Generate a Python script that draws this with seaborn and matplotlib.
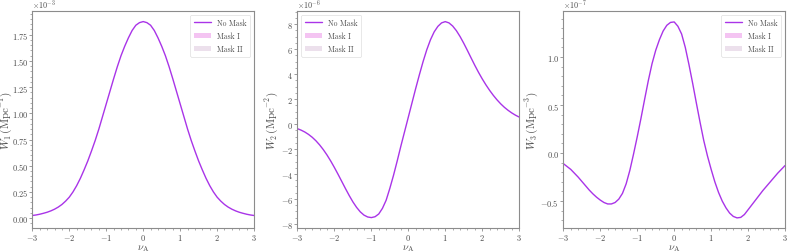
import numpy as np
import pandas as pd
import matplotlib
matplotlib.use('Agg')
import matplotlib.pyplot as plt
import matplotlib.ticker as plticker
import seaborn as sns

# threshold values nu_A
nu = [-3.0, -2.9, -2.8, -2.7, -2.6, -2.5, -2.4, -2.3, -2.2, -2.1, -2.0,
      -1.9, -1.8, -1.7, -1.6, -1.5, -1.4, -1.3, -1.2, -1.1, -1.0,
      -0.9, -0.8, -0.7, -0.6, -0.5, -0.4, -0.3, -0.2, -0.1, 0.0,
      0.1, 0.2, 0.3, 0.4, 0.5, 0.6, 0.7, 0.8, 0.9, 1.0,
      1.1, 1.2, 1.3, 1.4, 1.5, 1.6, 1.7, 1.8, 1.9, 2.0,
      2.1, 2.2, 2.3, 2.4, 2.5, 2.6, 2.7, 2.8, 2.9, 3.0]

# W1, units of 1e-3 Mpc^-1
w1 = [0.025, 0.030, 0.037, 0.046, 0.056, 0.069, 0.085, 0.105, 0.13, 0.162, 0.20,
      0.25, 0.31, 0.38, 0.46, 0.545, 0.64, 0.74, 0.85, 0.97, 1.09,
      1.21, 1.33, 1.445, 1.55, 1.64, 1.72, 1.79, 1.84, 1.865, 1.875,
      1.865, 1.84, 1.79, 1.72, 1.64, 1.55, 1.445, 1.33, 1.21, 1.09,
      0.97, 0.85, 0.74, 0.64, 0.545, 0.46, 0.38, 0.31, 0.25, 0.20,
      0.162, 0.13, 0.105, 0.085, 0.069, 0.056, 0.046, 0.037, 0.030, 0.025]

# W2, units of 1e-6 Mpc^-2
w2 = [-0.37, -0.49, -0.64, -0.83, -1.06, -1.34, -1.67, -2.05, -2.48, -2.96, -3.48,
      -4.03, -4.60, -5.17, -5.72, -6.23, -6.67, -7.03, -7.29, -7.44, -7.49,
      -7.42, -7.2, -6.75, -6.1, -5.15, -4.1, -2.95, -1.75, -0.6, 0.55,
      1.7, 2.85, 3.95, 5.0, 5.95, 6.75, 7.38, 7.82, 8.1, 8.2,
      8.1, 7.85, 7.48, 7.01, 6.47, 5.89, 5.29, 4.70, 4.14, 3.62,
      3.14, 2.70, 2.30, 1.94, 1.62, 1.34, 1.10, 0.89, 0.71, 0.56]

# W3, units of 1e-7 Mpc^-3
w3 = [-0.11, -0.14, -0.17, -0.21, -0.25, -0.295, -0.34, -0.385, -0.425, -0.46, -0.49,
      -0.515, -0.53, -0.53, -0.515, -0.48, -0.42, -0.32, -0.18, -0.01, 0.17,
      0.36, 0.56, 0.755, 0.93, 1.07, 1.18, 1.27, 1.33, 1.36, 1.365,
      1.32, 1.24, 1.10, 0.92, 0.725, 0.52, 0.32, 0.13, -0.03, -0.17,
      -0.30, -0.41, -0.50, -0.57, -0.625, -0.66, -0.675, -0.67, -0.64, -0.59,
      -0.54, -0.49, -0.44, -0.39, -0.345, -0.30, -0.255, -0.21, -0.17, -0.13]

scales = [1e-3, 1e-6, 1e-7]
ylabels = [r'$W_1\,(\mathrm{Mpc}^{-1})$', r'$W_2\,(\mathrm{Mpc}^{-2})$', r'$W_3\,(\mathrm{Mpc}^{-3})$']
ylims = [(-0.094, 1.977), (-8.32, 9.06), (-0.78, 1.48)]
legend_locs = ['upper right', 'upper left', 'upper right']
ylabel_x = [-0.085, -0.078, -0.105]

sns.set_theme(style='ticks')
plt.rcParams['font.family'] = ['serif']
plt.rcParams['font.serif'] = ['cmr10', 'DejaVu Serif']
plt.rcParams['mathtext.fontset'] = 'cm'
plt.rcParams['axes.formatter.use_mathtext'] = True
plt.rcParams['axes.unicode_minus'] = True
plt.rcParams['axes.edgecolor'] = '0.55'
plt.rcParams['xtick.color'] = '0.55'
plt.rcParams['ytick.color'] = '0.55'
plt.rcParams['xtick.labelcolor'] = '0.3'
plt.rcParams['ytick.labelcolor'] = '0.3'
plt.rcParams['axes.labelcolor'] = '0.3'
plt.rcParams['text.color'] = '0.3'

line_color = '#a934e8'
mask1_color = '#f4c4f2'
mask2_color = '#ece0ec'

fig = plt.figure(figsize=(7.89, 2.53), dpi=100)
lefts = [0.041, 0.377, 0.714]
width = 0.281

for i, w in enumerate([w1, w2, w3]):
    ax = fig.add_axes([lefts[i], 0.095, width, 0.858])
    df = pd.DataFrame({'nu': nu, 'W': np.array(w) * scales[i]})
    sns.lineplot(data=df, x='nu', y='W', ax=ax, color=line_color, lw=1.0, label='No Mask')
    ax.fill_between(df['nu'], df['W'], df['W'], color=mask1_color, lw=0, label='Mask I')
    ax.fill_between(df['nu'], df['W'], df['W'], color=mask2_color, lw=0, label='Mask II')

    ax.set_xlim(-3, 3)
    ax.set_ylim(ylims[i][0] * scales[i], ylims[i][1] * scales[i])
    ax.ticklabel_format(style='sci', axis='y', scilimits=(0, 0))
    ax.xaxis.set_minor_locator(plticker.AutoMinorLocator())
    ax.yaxis.set_minor_locator(plticker.AutoMinorLocator())
    ax.tick_params(which='major', labelsize=6.0, length=2.3, width=0.6, pad=0.8)
    ax.tick_params(which='minor', length=1.3, width=0.5)
    ax.yaxis.get_offset_text().set_fontsize(5.8)
    for s in ax.spines.values():
        s.set_linewidth(0.8)

    ax.set_xlabel(r'$\nu_{\rm A}$', fontsize=7.5, labelpad=0)
    ax.set_ylabel(ylabels[i], fontsize=8.0)
    ax.yaxis.set_label_coords(ylabel_x[i], 0.5)

    leg = ax.legend(loc=legend_locs[i], fontsize=5.5, frameon=True, handlelength=2.2,
                    borderpad=0.5, labelspacing=0.6, handletextpad=0.8)
    leg.get_frame().set_linewidth(0.4)
    # make band patches visible in legend
    for h, c in zip(leg.legend_handles[1:], [mask1_color, mask2_color]):
        h.set_facecolor(c)
        h.set_alpha(1)

plt.savefig('out.png', dpi=100)
